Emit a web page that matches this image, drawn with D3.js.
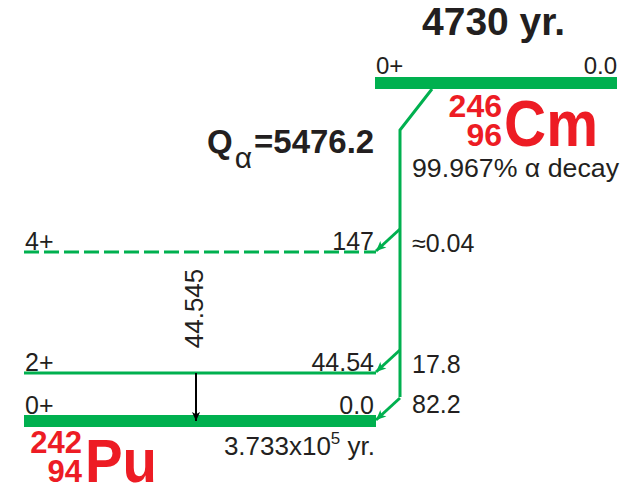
<!DOCTYPE html>
<html><head><meta charset="utf-8">
<script src="https://cdn.jsdelivr.net/npm/d3@7"></script>
<style>
body{margin:0;background:#fff}
svg{display:block}
text{font-family:"Liberation Sans",Arial,Helvetica,sans-serif;fill:#231f20}
</style></head>
<body><svg id="c" width="633" height="489"></svg>
<script>
// ---- data ----
const parentLevel = ["0+", "0.0"];            // spin, energy label
const parentHalfLife = "4730 yr.";
const parentNuclide = ["246", "96", "Cm"];   // A, Z, symbol
const parentBranch = "99.967% \u03b1 decay";
const qAlpha = "5476.2";
const daughterNuclide = ["242", "94", "Pu"];
const daughterHalfLife = ["3.733x10", "5", " yr."];
const levelEnergies = [0, 44.54, 147];
const levelLabels = ["0.0", "44.54", "147"];
const levelSpins = ["0+", "2+", "4+"];
const levelTentative = [false, false, true];
const alphaIntensities = ["82.2", "17.8", "\u22480.04"];
const gammaFrom = [44.54];
const gammaTo = [0];
const gammaLabels = ["44.545"];

// ---- layout ----
const GREEN = "#00b04f", RED = "#ed1c24", INK = "#231f20";
const svg = d3.select("#c");
const y = d3.scaleLinear().domain([0, 44.54, 147]).range([421, 373, 252]);
const dX0 = 24, dX1 = 376;            // daughter level extent
const pX0 = 375, pX1 = 617, pY = 83;  // parent level
const vX = 400;                       // alpha trunk x
const gX = 196;                       // gamma x

const defs = svg.append("defs");
function marker(id, color, w, h) {
  defs.append("marker").attr("id", id)
    .attr("viewBox", "0 0 10 10").attr("refX", 10).attr("refY", 5)
    .attr("markerUnits", "userSpaceOnUse")
    .attr("markerWidth", w).attr("markerHeight", h)
    .attr("orient", "auto")
    .append("path").attr("d", "M0,0.5 L10,5 L0,9.5 L2.5,5 Z").attr("fill", color);
}
marker("ag", GREEN, 11, 10);
marker("ak", "#000", 12, 9);

// daughter levels
const lv = levelEnergies.map((e, i) => ({e, i}));
svg.selectAll("line.lvl").data(lv).join("line").attr("class", "lvl")
  .attr("x1", dX0).attr("x2", dX1)
  .attr("y1", d => y(d.e)).attr("y2", d => y(d.e))
  .attr("stroke", GREEN)
  .attr("stroke-width", d => d.e === 0 ? 12 : 3)
  .attr("stroke-dasharray", d => levelTentative[d.i] ? "15,5" : null);

svg.selectAll("text.spin").data(lv).join("text").attr("class", "spin")
  .attr("x", 25).attr("y", d => y(d.e) - (d.e === 0 ? 7 : 2))
  .attr("font-size", 25).text(d => levelSpins[d.i]);
svg.selectAll("text.en").data(lv).join("text").attr("class", "en")
  .attr("x", 374).attr("y", d => y(d.e) - (d.e === 0 ? 7 : 2))
  .attr("text-anchor", "end").attr("font-size", 25).text(d => levelLabels[d.i]);
svg.selectAll("text.int").data(lv).join("text").attr("class", "int")
  .attr("x", 412).attr("y", d => y(d.e) - (d.e === 0 ? 8 : 0))
  .attr("font-size", 25).text(d => alphaIntensities[d.i]);

// parent level
svg.append("line").attr("x1", pX0).attr("x2", pX1).attr("y1", pY).attr("y2", pY)
  .attr("stroke", GREEN).attr("stroke-width", 12);
svg.append("text").attr("x", 376).attr("y", 74).attr("font-size", 24).text(parentLevel[0]);
svg.append("text").attr("x", 617).attr("y", 74).attr("text-anchor", "end").attr("font-size", 24).text(parentLevel[1]);
svg.append("text").attr("x", 422).attr("y", 35).attr("font-size", 39).attr("font-weight", "bold").text(parentHalfLife);

// alpha trunk
const yBottomBranch = y(0) - 24;
svg.append("path")
  .attr("d", `M432,${pY + 6} L${vX},130 L${vX},${yBottomBranch}`)
  .attr("fill", "none").attr("stroke", GREEN).attr("stroke-width", 3);
svg.selectAll("path.br").data(lv).join("path").attr("class", "br")
  .attr("d", d => `M${vX},${y(d.e) - 23} L${dX1},${y(d.e) - 1}`)
  .attr("fill", "none").attr("stroke", GREEN).attr("stroke-width", 3)
  .attr("marker-end", "url(#ag)");

// gamma
svg.selectAll("line.g").data(gammaFrom).join("line").attr("class", "g")
  .attr("x1", gX).attr("x2", gX)
  .attr("y1", d => y(d)).attr("y2", (d, i) => y(gammaTo[i]))
  .attr("stroke", "#000").attr("stroke-width", 2).attr("marker-end", "url(#ak)");
svg.selectAll("text.gl").data(gammaFrom).join("text").attr("class", "gl")
  .attr("transform", (d, i) => `translate(${gX + 7},${(y(gammaTo[i]) + y(147)) / 2 - 28}) rotate(-90)`)
  .attr("text-anchor", "middle").attr("font-size", 26).text((d, i) => gammaLabels[i]);

// Q alpha
const q = svg.append("text").attr("x", 207).attr("y", 153).attr("font-size", 33).attr("font-weight", "bold");
q.append("tspan").text("Q");
q.append("tspan").attr("font-weight", "normal").attr("font-size", 30).attr("dy", 15).attr("dx", 2).text("\u03b1");
q.append("tspan").attr("dy", -15).attr("dx", 2).text("=" + qAlpha);

// parent nuclide
svg.append("text").attr("x", 502).attr("y", 117).attr("text-anchor", "end").attr("font-size", 32)
  .attr("font-weight", "bold").style("fill", RED).text(parentNuclide[0]);
svg.append("text").attr("x", 502).attr("y", 146).attr("text-anchor", "end").attr("font-size", 32)
  .attr("font-weight", "bold").style("fill", RED).text(parentNuclide[1]);
svg.append("text").attr("x", 504).attr("y", 146).attr("font-size", 64)
  .attr("font-weight", "bold").style("fill", RED)
  .attr("textLength", 94).attr("lengthAdjust", "spacingAndGlyphs").text(parentNuclide[2]);
svg.append("text").attr("x", 412).attr("y", 177).attr("font-size", 25)
  .attr("textLength", 207).attr("lengthAdjust", "spacingAndGlyphs").text(parentBranch);

// daughter nuclide
svg.append("text").attr("x", 82).attr("y", 453).attr("text-anchor", "end").attr("font-size", 31)
  .attr("font-weight", "bold").style("fill", RED).text(daughterNuclide[0]);
svg.append("text").attr("x", 82).attr("y", 482).attr("text-anchor", "end").attr("font-size", 31)
  .attr("font-weight", "bold").style("fill", RED).text(daughterNuclide[1]);
svg.append("text").attr("x", 85).attr("y", 482).attr("font-size", 61)
  .attr("font-weight", "bold").style("fill", RED)
  .attr("textLength", 72).attr("lengthAdjust", "spacingAndGlyphs").text(daughterNuclide[2]);

const hl = svg.append("text").attr("x", 375).attr("y", 455).attr("text-anchor", "end").attr("font-size", 26);
hl.append("tspan").text(daughterHalfLife[0]);
hl.append("tspan").attr("font-size", 17).attr("dy", -11).text(daughterHalfLife[1]);
hl.append("tspan").attr("dy", 11).text(daughterHalfLife[2]);
</script></body></html>
